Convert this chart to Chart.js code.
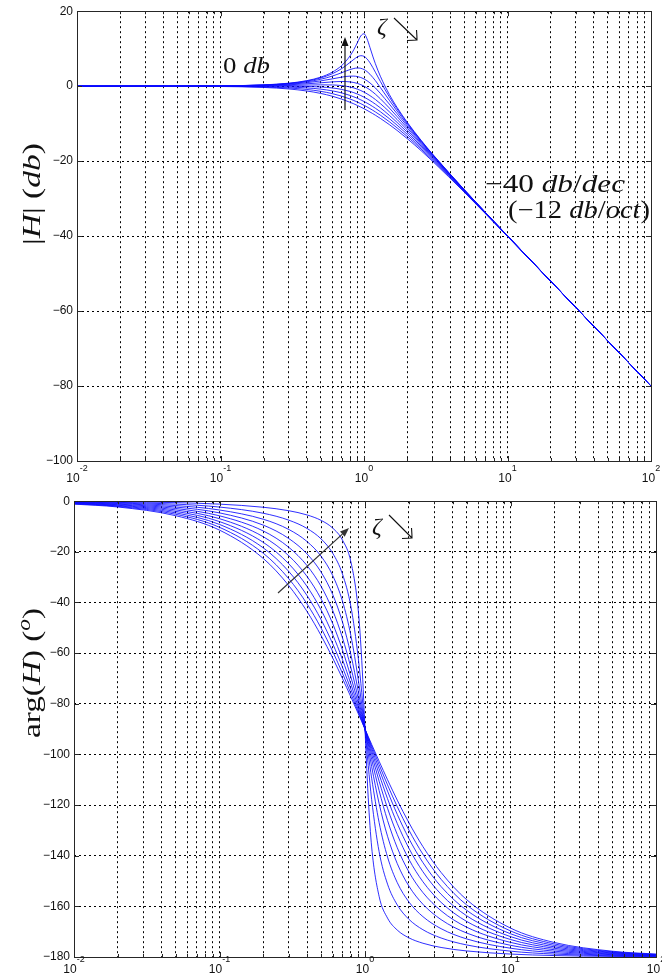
<!DOCTYPE html>
<html>
<head>
<meta charset="utf-8">
<script src="https://cdn.jsdelivr.net/npm/chart.js@4"></script>
<style>
  body { margin: 0; background: #fff; }
  #wrap { position: relative; width: 662px; height: 980px; }
  canvas { position: absolute; left: 0; }
</style>
</head>
<body>
<div id="wrap">
  <canvas id="magChart" width="662" height="490" style="top:0px"></canvas>
  <canvas id="phaseChart" width="662" height="490" style="top:490px"></canvas>
</div>
<script>
// DAMPING RATIOS (one curve each)
const zetas = [0.1, 0.2, 0.3, 0.4, 0.5, 0.6, 0.7, 0.8, 0.9, 1.0];

// MAGNITUDE PLOT DATA (dB)
const freqMag = [0.01, 0.1, 0.2, 0.3, 0.4, 0.5, 0.6, 0.7, 0.8, 0.85, 0.9, 0.95, 1, 1.05, 1.1, 1.15, 1.2, 1.3, 1.5, 1.7, 2, 2.5, 3, 5, 10, 30, 100];
const magZ01 = [0, 0.09, 0.35, 0.80, 1.48, 2.42, 3.73, 5.53, 8.09, 9.75, 11.64, 13.41, 13.98, 12.63, 10.34, 8.04, 6.00, 2.65, -2.18, -5.67, -9.62, -14.44, -18.09, -27.61, -39.91, -59.08, -80];
const magZ02 = [0, 0.08, 0.32, 0.74, 1.36, 2.20, 3.30, 4.70, 6.35, 7.15, 7.81, 8.13, 7.96, 7.28, 6.24, 5.01, 3.73, 1.27, -2.84, -6.06, -9.84, -14.56, -18.16, -27.63, -39.92, -59.08, -80];
const magZ03 = [0, 0.07, 0.29, 0.65, 1.17, 1.85, 2.68, 3.60, 4.44, 4.72, 4.85, 4.76, 4.44, 3.90, 3.19, 2.36, 1.48, -0.35, -3.75, -6.64, -10.19, -14.74, -18.28, -27.67, -39.93, -59.08, -80];
const magZ04 = [0, 0.06, 0.24, 0.53, 0.93, 1.41, 1.94, 2.41, 2.68, 2.68, 2.56, 2.31, 1.94, 1.45, 0.87, 0.22, -0.47, -1.92, -4.77, -7.34, -10.63, -14.99, -18.44, -27.72, -39.94, -59.08, -80];
const magZ05 = [0, 0.04, 0.17, 0.37, 0.63, 0.90, 1.14, 1.25, 1.14, 0.97, 0.73, 0.40, 0, -0.47, -0.98, -1.54, -2.13, -3.36, -5.81, -8.10, -11.14, -15.29, -18.63, -27.79, -39.96, -59.08, -80];
const magZ06 = [0, 0.02, 0.09, 0.19, 0.29, 0.35, 0.32, 0.15, -0.22, -0.48, -0.80, -1.17, -1.58, -2.04, -2.52, -3.03, -3.55, -4.64, -6.81, -8.88, -11.69, -15.63, -18.86, -27.87, -39.98, -59.08, -80];
const magZ07 = [0, 0, 0, -0.02, -0.08, -0.22, -0.47, -0.87, -1.41, -1.74, -2.11, -2.50, -2.92, -3.37, -3.83, -4.31, -4.79, -5.78, -7.76, -9.66, -12.26, -16.00, -19.12, -27.96, -40.00, -59.08, -80];
const magZ08 = [0, -0.02, -0.10, -0.25, -0.47, -0.80, -1.24, -1.80, -2.47, -2.85, -3.24, -3.65, -4.08, -4.52, -4.97, -5.43, -5.89, -6.81, -8.65, -10.40, -12.84, -16.39, -19.40, -28.06, -40.02, -59.08, -80];
const magZ09 = [0, -0.05, -0.22, -0.49, -0.88, -1.38, -1.98, -2.67, -3.43, -3.83, -4.25, -4.67, -5.11, -5.54, -5.98, -6.42, -6.87, -7.75, -9.47, -11.12, -13.42, -16.80, -19.69, -28.18, -40.05, -59.08, -80];
const magZ10 = [0, -0.09, -0.34, -0.75, -1.29, -1.94, -2.67, -3.46, -4.30, -4.72, -5.15, -5.59, -6.02, -6.45, -6.89, -7.32, -7.75, -8.60, -10.24, -11.80, -13.98, -17.21, -20.00, -28.30, -40.09, -59.09, -80];

// PHASE PLOT DATA (degrees)
const freqPhase = [0.01, 0.02, 0.05, 0.1, 0.2, 0.3, 0.4, 0.5, 0.6, 0.7, 0.8, 0.9, 0.95, 0.98, 1, 1.0204, 1.0526, 1.111, 1.25, 1.4286, 1.6667, 2, 2.5, 3.333, 5, 10, 20, 50, 100];
const phZ01 = [-0.11, -0.23, -0.57, -1.16, -2.39, -3.77, -5.44, -7.59, -10.62, -15.35, -23.96, -43.45, -62.84, -78.58, -90, -101.42, -117.16, -136.55, -156.04, -164.65, -169.38, -172.41, -174.56, -176.23, -177.61, -178.84, -179.43, -179.77, -179.89];
const phZ02 = [-0.23, -0.46, -1.15, -2.31, -4.76, -7.51, -10.78, -14.93, -20.56, -28.77, -41.63, -62.18, -75.61, -84.23, -90, -95.77, -104.39, -117.82, -138.37, -151.23, -159.44, -165.07, -169.22, -172.49, -175.24, -177.69, -178.85, -179.54, -179.77];
const phZ03 = [-0.34, -0.69, -1.72, -3.47, -7.13, -11.19, -15.95, -21.80, -29.36, -39.47, -53.13, -70.61, -80.29, -86.15, -90, -93.85, -99.71, -109.39, -126.87, -140.53, -150.64, -158.20, -164.05, -168.81, -172.87, -176.53, -178.28, -179.31, -179.66];
const phZ04 = [-0.46, -0.92, -2.30, -4.62, -9.46, -14.77, -20.85, -28.07, -36.87, -47.68, -60.64, -75.22, -82.69, -87.11, -90, -92.89, -97.31, -104.78, -119.36, -132.32, -143.13, -151.93, -159.15, -165.23, -170.54, -175.38, -177.70, -179.08, -179.54];
const phZ05 = [-0.57, -1.15, -2.87, -5.77, -11.77, -18.25, -25.46, -33.69, -43.15, -53.92, -65.77, -78.08, -84.14, -87.69, -90, -92.31, -95.86, -101.92, -114.23, -126.08, -136.85, -146.31, -154.54, -161.75, -168.23, -174.23, -177.13, -178.85, -179.43];
const phZ06 = [-0.69, -1.38, -3.44, -6.91, -14.04, -21.59, -29.74, -38.66, -48.37, -58.74, -69.44, -80.02, -85.11, -88.07, -90, -91.93, -94.89, -99.98, -110.56, -121.26, -131.63, -141.34, -150.26, -158.41, -165.96, -173.09, -176.56, -178.62, -179.31];
const phZ07 = [-0.80, -1.60, -4.01, -8.05, -16.26, -24.78, -33.69, -43.03, -52.70, -62.50, -72.18, -81.42, -85.81, -88.35, -90, -91.65, -94.19, -98.58, -107.82, -117.50, -127.30, -136.97, -146.31, -155.22, -163.74, -171.95, -175.99, -178.40, -179.20];
const phZ08 = [-0.92, -1.83, -4.59, -9.18, -18.43, -27.81, -37.30, -46.85, -56.31, -65.52, -74.29, -82.48, -86.33, -88.55, -90, -91.45, -93.67, -97.52, -105.71, -114.48, -123.69, -133.15, -142.70, -152.19, -161.57, -170.82, -175.41, -178.17, -179.08];
const phZ09 = [-1.03, -2.06, -5.16, -10.31, -20.56, -30.68, -40.60, -50.19, -59.35, -67.96, -75.96, -83.31, -86.74, -88.71, -90, -91.29, -93.26, -96.69, -104.04, -112.04, -120.65, -129.81, -139.40, -149.32, -159.44, -169.69, -174.84, -177.94, -178.97];
const phZ10 = [-1.15, -2.29, -5.73, -11.42, -22.62, -33.40, -43.60, -53.13, -61.93, -69.99, -77.32, -83.97, -87.06, -88.84, -90, -91.16, -92.94, -96.03, -102.68, -110.01, -118.07, -126.87, -136.40, -146.60, -157.38, -168.58, -174.27, -177.71, -178.85];

const magSeries = [magZ01, magZ02, magZ03, magZ04, magZ05, magZ06, magZ07, magZ08, magZ09, magZ10];
const phaseSeries = [phZ01, phZ02, phZ03, phZ04, phZ05, phZ06, phZ07, phZ08, phZ09, phZ10];

// AXIS TICKS
const decades = [0.01, 0.1, 1, 10, 100];
const decadeExp = ["-2", "-1", "0", "1", "2"];
const minorSteps = [2, 3, 4, 5, 6, 7, 8, 9];
const magTicks = [20, 0, -20, -40, -60, -80, -100];
const phaseTicks = [0, -20, -40, -60, -80, -100, -120, -140, -160, -180];

const BOX = "#262626";
const GRID = "#000";
const CURVE = "rgba(10,10,255,0.85)";

var xGrid = [];
decades.forEach((d, i) => {
  xGrid.push(d);
  if (i < decades.length - 1) minorSteps.forEach((m) => xGrid.push(d * m));
});

function isDecade(v) {
  return Math.abs(Math.log10(v) - Math.round(Math.log10(v))) < 1e-6;
}

function fmtTick(v) {
  return v < 0 ? "\u2212" + Math.abs(v) : String(v);
}

//MATH-LIKE TEXT (parts: [text, 'r' roman | 'i' italic | 's' italic superscript])
function drawMath(ctx, parts, x, y, size, targetWidth, align) {
  ctx.save();
  ctx.textBaseline = "alphabetic";
  ctx.textAlign = "left";
  ctx.fillStyle = "#111";
  const fontOf = (p) =>
    (p[1] === "r" ? "" : "italic ") + (p[1] === "s" ? size * 0.7 : size) + 'px "Liberation Serif"';
  let w = 0;
  parts.forEach((p) => { ctx.font = fontOf(p); w += ctx.measureText(p[0]).width; });
  const k = targetWidth ? targetWidth / w : 1;
  ctx.translate(x, y);
  ctx.scale(k, 1);
  let cx = align === "center" ? -w / 2 : 0;
  parts.forEach((p) => {
    ctx.font = fontOf(p);
    ctx.fillText(p[0], cx, p[1] === "s" ? -size * 0.4 : 0);
    cx += ctx.measureText(p[0]).width;
  });
  ctx.restore();
}

function arrow(ctx, x1, y1, x2, y2, color) {
  const a = Math.atan2(y2 - y1, x2 - x1);
  const len = 9, hw = 3.5;
  ctx.save();
  ctx.strokeStyle = color;
  ctx.fillStyle = color;
  ctx.lineWidth = 1.2;
  ctx.beginPath();
  ctx.moveTo(x1, y1);
  ctx.lineTo(x2 - len * Math.cos(a), y2 - len * Math.sin(a));
  ctx.stroke();
  ctx.beginPath();
  ctx.moveTo(x2, y2);
  ctx.lineTo(x2 - len * Math.cos(a) - hw * Math.sin(a), y2 - len * Math.sin(a) + hw * Math.cos(a));
  ctx.lineTo(x2 - len * Math.cos(a) + hw * Math.sin(a), y2 - len * Math.sin(a) - hw * Math.cos(a));
  ctx.closePath();
  ctx.fill();
  ctx.restore();
}

// zeta with a "searrow" next to it
function zetaArrow(ctx, zx, zy, ax1, ay1, ax2, ay2) {
  drawMath(ctx, [["\u03B6", "i"]], zx, zy, 24);
  ctx.save();
  ctx.strokeStyle = "#111";
  ctx.lineWidth = 1.1;
  ctx.beginPath();
  ctx.moveTo(ax1, ay1);
  ctx.lineTo(ax2, ay2);
  ctx.moveTo(ax2 - 10, ay2 + 0.5);
  ctx.quadraticCurveTo(ax2 - 3, ay2, ax2, ay2);
  ctx.quadraticCurveTo(ax2, ay2 - 3, ax2 - 0.5, ay2 - 10);
  ctx.stroke();
  ctx.restore();
}

//PLUGIN FOR MATLAB STYLE BOX, INNER TICKS AND LOG LABELS
function framePlugin(labelBaseline, extra) {
  return {
    id: "frame",
    afterDraw(chart) {
      const { ctx, chartArea: { left, right, top, bottom }, scales: { x, y } } = chart;
      ctx.save();
      ctx.strokeStyle = BOX;
      ctx.lineWidth = 1;
      ctx.beginPath();
      xGrid.forEach((v) => {
        const px = Math.round(x.getPixelForValue(v)) + 0.5;
        const len = isDecade(v) ? 5 : 3;
        ctx.moveTo(px, bottom); ctx.lineTo(px, bottom - len);
        ctx.moveTo(px, top); ctx.lineTo(px, top + len);
      });
      y.ticks.forEach((t) => {
        const py = Math.round(y.getPixelForValue(t.value)) + 0.5;
        ctx.moveTo(left, py); ctx.lineTo(left + 5, py);
        ctx.moveTo(right, py); ctx.lineTo(right - 5, py);
      });
      ctx.stroke();
      ctx.strokeRect(Math.round(left) + 0.5, Math.round(top) + 0.5, Math.round(right - left), Math.round(bottom - top));

      // x labels 10^n
      ctx.fillStyle = "#111";
      ctx.textBaseline = "alphabetic";
      ctx.textAlign = "left";
      decades.forEach((d, i) => {
        const px = x.getPixelForValue(d);
        ctx.font = '12px "Liberation Sans"';
        const w1 = ctx.measureText("10").width;
        ctx.font = '9px "Liberation Sans"';
        const w2 = ctx.measureText(decadeExp[i]).width;
        const sx = px - (w1 + w2) / 2;
        ctx.font = '12px "Liberation Sans"';
        ctx.fillText("10", sx, labelBaseline);
        ctx.font = '9px "Liberation Sans"';
        ctx.fillText(decadeExp[i], sx + w1, labelBaseline - 11);
      });
      ctx.restore();
      extra(ctx);
    },
  };
}

function makeConfig(freq, series, yMin, yMax, yTicks, pad, yWidth, xHeight, labelBaseline, extra) {
  const datasets = series.map((arr, i) => ({
    label: "zeta = " + zetas[i],
    data: freq.map((f, j) => ({ x: f, y: arr[j] })),
    borderColor: CURVE,
    backgroundColor: CURVE,
    borderWidth: 1,
    pointRadius: 0,
    fill: false,
    cubicInterpolationMode: "monotone",
  }));
  return {
    type: "line",
    data: { datasets },
    options: {
      responsive: false,
      animation: false,
      devicePixelRatio: 1,
      layout: { padding: pad },
      plugins: { legend: { display: false }, tooltip: { enabled: false } },
      scales: {
        x: {
          type: "logarithmic",
          min: 0.01,
          max: 100,
          afterBuildTicks: (axis) => { axis.ticks = xGrid.map((v) => ({ value: v })); },
          afterFit: (axis) => { axis.height = xHeight; },
          ticks: { display: false },
          grid: { color: GRID, lineWidth: 1, drawTicks: false },
          border: { display: false, dash: [2, 3] },
        },
        y: {
          min: yMin,
          max: yMax,
          afterBuildTicks: (axis) => { axis.ticks = yTicks.map((v) => ({ value: v })); },
          afterFit: (axis) => { axis.width = yWidth; },
          ticks: {
            padding: 4,
            color: "#111",
            font: { family: "Liberation Sans", size: 12 },
            callback: (v) => fmtTick(v),
          },
          grid: { color: GRID, lineWidth: 1, drawTicks: false },
          border: { display: false, dash: [2, 3] },
        },
      },
    },
    plugins: [framePlugin(labelBaseline, extra)],
  };
}

// render init block
const magChart = new Chart(
  document.getElementById("magChart"),
  makeConfig(freqMag, magSeries, -100, 20, magTicks, { left: 0, right: 11, top: 11, bottom: 0 }, 77, 29, 482, (ctx) => {
    // axis title |H| (db)
    ctx.save();
    ctx.translate(40, 194);
    ctx.rotate(-Math.PI / 2);
    drawMath(ctx, [["|", "r"], ["H", "i"], ["| (", "r"], ["db", "i"], [")", "r"]], 0, 0, 26, 102, "center");
    ctx.restore();
    drawMath(ctx, [["0 ", "r"], ["db", "i"]], 223, 73, 24, 47);
    arrow(ctx, 345, 110, 345, 37, "#111");
    zetaArrow(ctx, 377, 34, 394, 18, 417, 40);
    drawMath(ctx, [["\u221240 ", "r"], ["db", "i"], ["/", "r"], ["dec", "i"]], 485, 192, 25, 140);
    drawMath(ctx, [["(\u221212 ", "r"], ["db", "i"], ["/", "r"], ["oct", "i"], [")", "r"]], 508, 218, 25, 142);
  })
);

const phaseChart = new Chart(
  document.getElementById("phaseChart"),
  makeConfig(freqPhase, phaseSeries, -180, 0, phaseTicks, { left: 0, right: 6, top: 9, bottom: 0 }, 74, 23, 483, (ctx) => {
    // axis title arg(H) (o)
    ctx.save();
    ctx.translate(40, 183);
    ctx.rotate(-Math.PI / 2);
    drawMath(ctx, [["arg(", "r"], ["H", "i"], [") (", "r"], ["o", "s"], [")", "r"]], 0, 0, 26, 130, "center");
    ctx.restore();
    arrow(ctx, 278, 103, 349, 38, "#333");
    zetaArrow(ctx, 372, 44, 389, 25, 412, 48);
  })
);
</script>
</body>
</html>
